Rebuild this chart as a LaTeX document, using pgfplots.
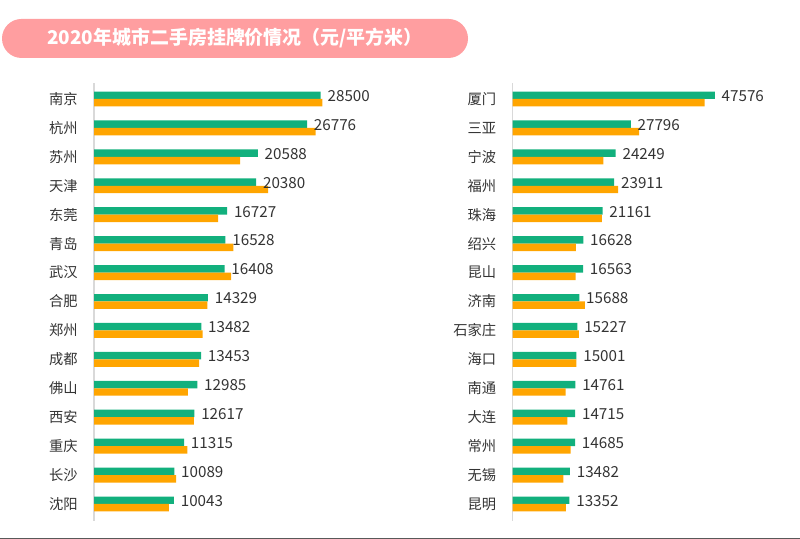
\documentclass[border=0pt]{standalone}
\usepackage{pgfplots}
\pgfplotsset{compat=1.18}
\usepackage{pgfplotstable}
\usepackage{fontspec}
\setmainfont{Noto Sans CJK SC}
\definecolor{barg}{RGB}{18,176,125}
\definecolor{baro}{RGB}{255,165,0}
\definecolor{pinkbox}{RGB}{255,158,160}
\definecolor{txt}{RGB}{51,51,51}

\pgfplotstableread{
y g o
0 28500 28700
-1 26776 27860
-2 20588 18360
-3 20380 21880
-4 16727 15600
-5 16528 17530
-6 16408 17230
-7 14329 14250
-8 13482 13640
-9 13453 13220
-10 12985 11800
-11 12617 12540
-12 11315 11750
-13 10089 10330
-14 10043 9410
}\lefttab

\pgfplotstableread{
y g o
0 47576 45160
-1 27796 29790
-2 24249 21330
-3 23911 24850
-4 21161 21010
-5 16628 14900
-6 16563 14820
-7 15688 17010
-8 15227 15600
-9 15001 15000
-10 14761 12470
-11 14715 12860
-12 14685 13640
-13 13482 11920
-14 13352 12540
}\righttab

\pgfplotsset{
  panel/.style={
    scale only axis,
    height=328.5pt,
    xbar,
    bar width=5.6pt,
    xmin=0,
    ymin=-14.588, ymax=0.553,
    axis x line=none,
    axis y line=left,
    y axis line style={-, draw=black!15, line width=1.1pt},
    ytick={0,-1,-2,-3,-4,-5,-6,-7,-8,-9,-10,-11,-12,-13,-14},
    ytick style={draw=none},
    yticklabel style={font=\fontsize{10.7pt}{12pt}\selectfont, text=txt, inner sep=0pt, xshift=-10pt},
    /pgf/number format/assume math mode=true,
    /pgf/number format/1000 sep={},
    clip=false,
  },
  gbar/.style={fill=barg, draw=none, bar shift=2.8pt,
    nodes near coords,
    every node near coord/.append style={font=\fontsize{11.4pt}{13pt}\selectfont, text=txt, anchor=west, inner sep=0pt, xshift=5pt, yshift=-0.5pt}},
  obar/.style={fill=baro, draw=none, bar shift=-2.8pt},
}

\begin{document}
\begin{tikzpicture}
\useasboundingbox (0,0) rectangle (600pt,404.25pt);
\node[fill=pinkbox, rounded corners=14.6pt, minimum width=349.5pt, minimum height=29.25pt, inner sep=0pt,
  text=white, font=\bfseries\fontsize{14.2pt}{16pt}\selectfont] at (176.25pt,375.4pt) {2020年城市二手房挂牌价情况（元/平方米）};

\begin{axis}[panel, at={(70.5pt,13.5pt)}, anchor=south west, width=244.5pt, xmax=40978,
  yticklabels={南京,杭州,苏州,天津,东莞,青岛,武汉,合肥,郑州,成都,佛山,西安,重庆,长沙,沈阳}]
\addplot[gbar] table[x=g, y=y] {\lefttab};
\addplot[obar] table[x=o, y=y] {\lefttab};
\end{axis}

\begin{axis}[panel, at={(384.5pt,13.5pt)}, anchor=south west, width=195pt, xmax=61204,
  yticklabels={厦门,三亚,宁波,福州,珠海,绍兴,昆山,济南,石家庄,海口,南通,大连,常州,无锡,昆明}]
\addplot[gbar] table[x=g, y=y] {\righttab};
\addplot[obar] table[x=o, y=y] {\righttab};
\end{axis}

\draw[black!65, line width=0.8pt] (0,0.4pt) -- (600pt,0.4pt);
\end{tikzpicture}
\end{document}
